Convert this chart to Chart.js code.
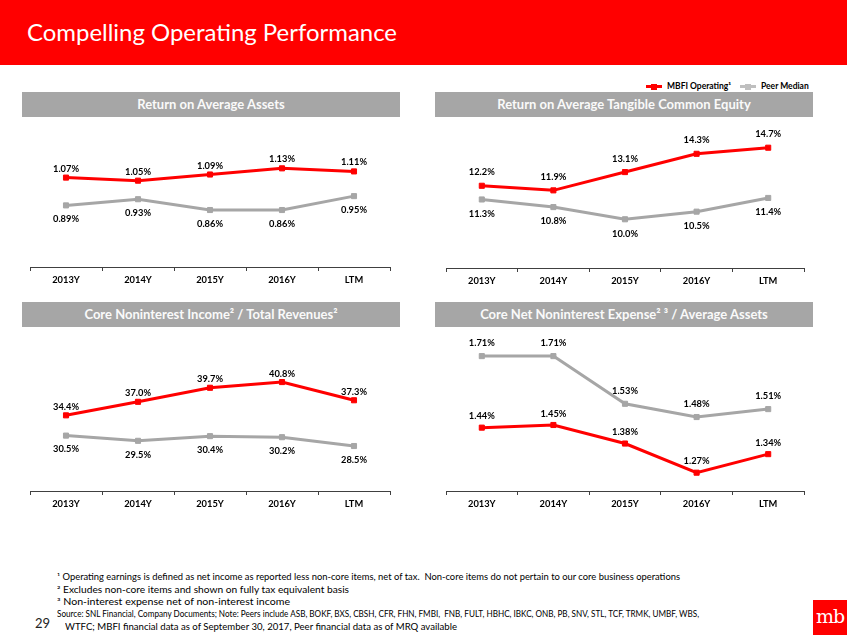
<!DOCTYPE html>
<html>
<head>
<meta charset="utf-8">
<script src="https://cdn.jsdelivr.net/npm/chart.js@4.4.1/dist/chart.umd.min.js"></script>
<style>
  html, body { margin: 0; padding: 0; }
  body { width: 847px; height: 635px; position: relative; overflow: hidden; background: #fff; font-family: Lato, "Open Sans", sans-serif; }
  #titlebar { position: absolute; left: 0; top: 0; width: 847px; height: 65px; background: #ff0000; }
  #title { position: absolute; left: 27px; top: 17px; font-size: 24px; color: #fff; white-space: nowrap; transform-origin: left center; }
  .hdr { position: absolute; height: 25px; background: #a6a6a6; color: #fafafa; font-weight: bold; font-size: 13px; line-height: 25px; text-align: center; white-space: nowrap; }
  canvas { position: absolute; }
  .legend { position: absolute; top: 79px; height: 14px; font-size: 8.5px; font-weight: bold; line-height: 14px; color: #000; white-space: nowrap; }
  .mk { position: absolute; width: 16px; height: 3px; top: 6px; }
  .mk i { position: absolute; left: 5px; top: -1.5px; width: 6px; height: 6px; }
  .fn { position: absolute; left: 57px; font-size: 8.7px; color: #000; white-space: nowrap; transform-origin: left center; line-height: 11px; }
  #pg { position: absolute; left: 35px; top: 615px; font-size: 13px; color: #222; }
  #logo { position: absolute; left: 813px; top: 600px; width: 34px; height: 35px; background: #ff0000; color: #fff; font-family: "DejaVu Serif", "Liberation Serif", serif; font-size: 19px; line-height: 33px; text-align: center; letter-spacing: -1px; }
</style>
</head>
<body>
<div id="titlebar"></div>
<div id="title" data-w="370">Compelling Operating Performance</div>

<div class="legend" style="left:646px;"><div class="mk" style="left:0;background:#ff0000;"><i style="background:#ff0000;"></i></div><span style="position:absolute;left:21px;">MBFI Operating¹</span></div>
<div class="legend" style="left:740px;"><div class="mk" style="left:0;background:#bfbfbf;"><i style="background:#bfbfbf;"></i></div><span style="position:absolute;left:21px;">Peer Median</span></div>

<div class="hdr" style="left:22px;top:92px;width:378px;">Return on Average Assets</div>
<div class="hdr" style="left:435px;top:92px;width:378px;">Return on Average Tangible Common Equity</div>
<div class="hdr" style="left:22px;top:302px;width:378px;">Core Noninterest Income² / Total Revenues²</div>
<div class="hdr" style="left:435px;top:302px;width:378px;">Core Net Noninterest Expense² ³ / Average Assets</div>

<canvas id="c1" width="380" height="177" style="left:22px;top:120px;"></canvas>
<canvas id="c2" width="380" height="178" style="left:435px;top:120px;"></canvas>
<canvas id="c3" width="380" height="191" style="left:22px;top:330px;"></canvas>
<canvas id="c4" width="380" height="191" style="left:435px;top:330px;"></canvas>

<div class="fn" style="top:571px;" data-w="623">¹ Operating earnings is defined as net income as reported less non-core items, net of tax.&nbsp; Non-core items do not pertain to our core business operations</div>
<div class="fn" style="top:584px;" data-w="292">² Excludes non-core items and shown on fully tax equivalent basis</div>
<div class="fn" style="top:596px;" data-w="233">³ Non-interest expense net of non-interest income</div>
<div class="fn" style="top:608px;" data-w="642">Source: SNL Financial, Company Documents; Note: Peers include ASB, BOKF, BXS, CBSH, CFR, FHN, FMBI,&nbsp; FNB, FULT, HBHC, IBKC, ONB, PB, SNV, STL, TCF, TRMK, UMBF, WBS,</div>
<div class="fn" style="top:621px;left:65px;" data-w="392">WTFC; MBFI financial data as of September 30, 2017, Peer financial data as of MRQ available</div>
<div id="pg">29</div>
<div id="logo">mb</div>

<script>
// ---- data ----
const categories = ['2013Y', '2014Y', '2015Y', '2016Y', 'LTM'];
const seriesNames = ['MBFI Operating', 'Peer Median'];
const roaaMbfi   = [1.07, 1.05, 1.09, 1.13, 1.11];
const roaaPeer   = [0.89, 0.93, 0.86, 0.86, 0.95];
const roatceMbfi = [12.2, 11.9, 13.1, 14.3, 14.7];
const roatcePeer = [11.3, 10.8, 10.0, 10.5, 11.4];
const nonintMbfi = [34.4, 37.0, 39.7, 40.8, 37.3];
const nonintPeer = [30.5, 29.5, 30.4, 30.2, 28.5];
const expMbfi    = [1.44, 1.45, 1.38, 1.27, 1.34];
const expPeer    = [1.71, 1.71, 1.53, 1.48, 1.51];

// ---- text fitting (style only) ----
document.querySelectorAll('[data-w]').forEach(el => {
  const w = el.getBoundingClientRect().width;
  const target = parseFloat(el.dataset.w);
  if (w > 0) el.style.transform = 'scaleX(' + (target / w) + ')';
});

const RED = '#ff0000';
const GRAY = '#a6a6a6';

const valueLabels = {
  id: 'valueLabels',
  afterDatasetsDraw(chart) {
    const ctx = chart.ctx;
    chart.data.datasets.forEach((ds, i) => {
      const meta = chart.getDatasetMeta(i);
      ctx.save();
      ctx.font = 'bold 9.3px Lato';
      ctx.fillStyle = '#000';
      ctx.textAlign = 'center';
      ctx.textBaseline = 'middle';
      meta.data.forEach((pt, j) => {
        ctx.fillText(ds.data[j].toFixed(ds.decimals) + '%', pt.x, pt.y + ds.labelDy);
      });
      ctx.restore();
    });
  }
};

function ds(label, data, color, decimals, labelDy) {
  return {
    label, data, decimals, labelDy,
    borderColor: color, backgroundColor: color,
    borderWidth: 3,
    pointStyle: 'rect', pointRadius: 3.6, pointBorderWidth: 1,
    pointBackgroundColor: color, pointBorderColor: color,
    tension: 0
  };
}

function makeChart(id, mbfi, peer, min, max, decimals, dyM, dyP, padL, padR) {
  new Chart(document.getElementById(id), {
    type: 'line',
    data: {
      labels: categories,
      datasets: [
        ds(seriesNames[0], mbfi, RED, decimals, dyM),
        ds(seriesNames[1], peer, GRAY, decimals, dyP)
      ]
    },
    options: {
      responsive: false,
      animation: false,
      devicePixelRatio: 1,
      layout: { padding: { left: padL, right: padR, top: 0, bottom: 0 }, autoPadding: false },
      plugins: { legend: { display: false }, tooltip: { enabled: false } },
      scales: {
        x: {
          offset: true,
          afterFit: (s) => { s.height = 30; },
          grid: { display: true, offset: true, drawOnChartArea: false, drawTicks: true, tickLength: 4, color: '#404040', lineWidth: 1 },
          border: { display: true, color: '#404040', width: 1 },
          ticks: { color: '#000', font: { family: 'Lato', weight: 'bold', size: 9.3 }, padding: 3, maxRotation: 0 }
        },
        y: { display: false, min, max }
      }
    },
    plugins: [valueLabels]
  });
}

makeChart('c1', roaaMbfi, roaaPeer, 0.491, 1.443, 2, -9, 13.5, 8, 12);
makeChart('c2', roatceMbfi, roatcePeer, 6.80, 16.52, 1, -13.5, 14.3, 11, 11);
makeChart('c3', nonintMbfi, nonintPeer, 19.85, 50.81, 1, -8.5, 13.8, 8, 12);
makeChart('c4', expMbfi, expPeer, 1.2009, 1.8085, 2, -11.3, -12.8, 11, 11);
</script>
</body>
</html>
